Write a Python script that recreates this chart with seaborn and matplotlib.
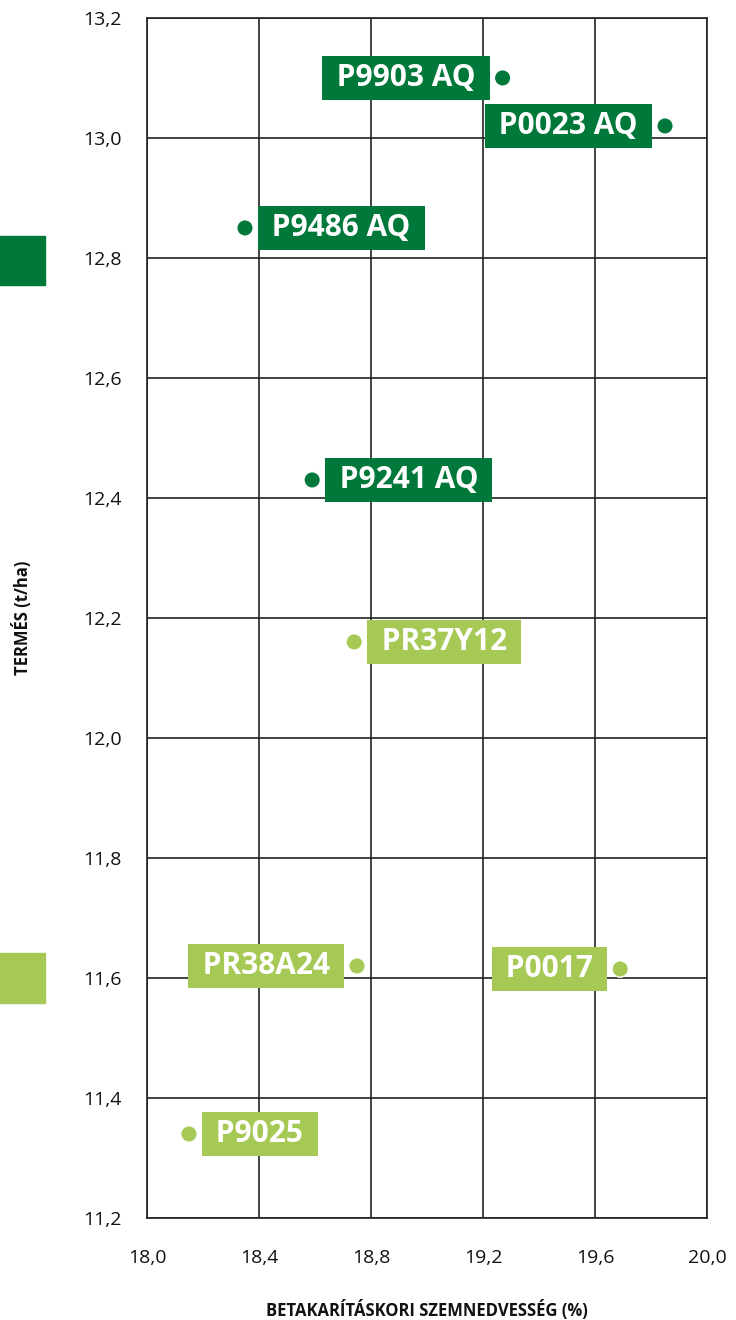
import matplotlib
matplotlib.use("Agg")
import matplotlib.pyplot as plt
from matplotlib.patches import Rectangle
import pandas as pd
import seaborn as sns

# hybrid data
hybrids = ["P9903 AQ", "P0023 AQ", "P9486 AQ", "P9241 AQ",
           "PR37Y12", "PR38A24", "P0017", "P9025"]
moisture = [19.27, 19.85, 18.35, 18.59, 18.74, 18.75, 19.69, 18.15]
yield_tha = [13.10, 13.02, 12.85, 12.43, 12.16, 11.62, 11.615, 11.34]
group = ["AQ", "AQ", "AQ", "AQ", "conv", "conv", "conv", "conv"]
label_side = ["left", "left", "right", "right", "right", "left", "left", "right"]

x_ticks = [18.0, 18.4, 18.8, 19.2, 19.6, 20.0]
y_ticks = [11.2, 11.4, 11.6, 11.8, 12.0, 12.2, 12.4, 12.6, 12.8, 13.0, 13.2]

dark = "#00783a"
light = "#a6c956"
colors = {"AQ": dark, "conv": light}

df = pd.DataFrame({"hybrid": hybrids, "x": moisture, "y": yield_tha,
                   "group": group, "side": label_side})

sns.set_style("white")
plt.rcParams["font.family"] = ["Open Sans", "DejaVu Sans"]

fig = plt.figure(figsize=(7.36, 13.2), dpi=100)
ax = fig.add_axes([0.1997, 0.0773, 0.7609, 0.9091])

sns.scatterplot(data=df, x="x", y="y", hue="group", palette=colors,
                s=140, edgecolor="white", linewidth=1, legend=False,
                ax=ax, zorder=5)

for _, r in df.iterrows():
    off = 14 if r["side"] == "right" else -14
    ha = "left" if r["side"] == "right" else "right"
    ax.annotate(" " + r["hybrid"] + " ", (r["x"], r["y"]), xytext=(off, 0),
                textcoords="offset points", ha=ha, va="center",
                fontsize=21.5, fontweight="bold", color="white", zorder=6,
                bbox=dict(boxstyle="square,pad=0.22", fc=colors[r["group"]],
                          ec="none"))

ax.set_xlim(18.0, 20.0)
ax.set_ylim(11.2, 13.2)
ax.set_xticks(x_ticks)
ax.set_yticks(y_ticks)
ax.set_xticklabels([f"{v:.1f}".replace(".", ",") for v in x_ticks])
ax.set_yticklabels([f"{v:.1f}".replace(".", ",") for v in y_ticks])
ax.grid(True, color="#222222", linewidth=1.2)
ax.set_axisbelow(True)
for sp in ax.spines.values():
    sp.set_color("#222222")
    sp.set_linewidth(1.2)
ax.tick_params(axis="both", length=9, width=1.2, color="#222222",
               labelsize=14, labelcolor="#111111")
ax.tick_params(axis="x", pad=13)
ax.tick_params(axis="y", pad=9)

ax.set_xlabel("BETAKARÍTÁSKORI SZEMNEDVESSÉG (%)", fontsize=12,
              fontweight="bold", color="#111111")
ax.set_ylabel("TERMÉS (t/ha)", fontsize=12, fontweight="bold",
              color="#111111")
ax.xaxis.set_label_coords(0.5, -0.068)
ax.yaxis.set_label_coords(-0.205, 0.5)

# side markers
fig.patches.append(Rectangle((0, 1 - 285 / 1320), 45 / 736, 49 / 1320,
                             transform=fig.transFigure, color=dark))
fig.patches.append(Rectangle((0, 1 - 1003 / 1320), 45 / 736, 50 / 1320,
                             transform=fig.transFigure, color=light))

fig.savefig("out.png", dpi=100)
